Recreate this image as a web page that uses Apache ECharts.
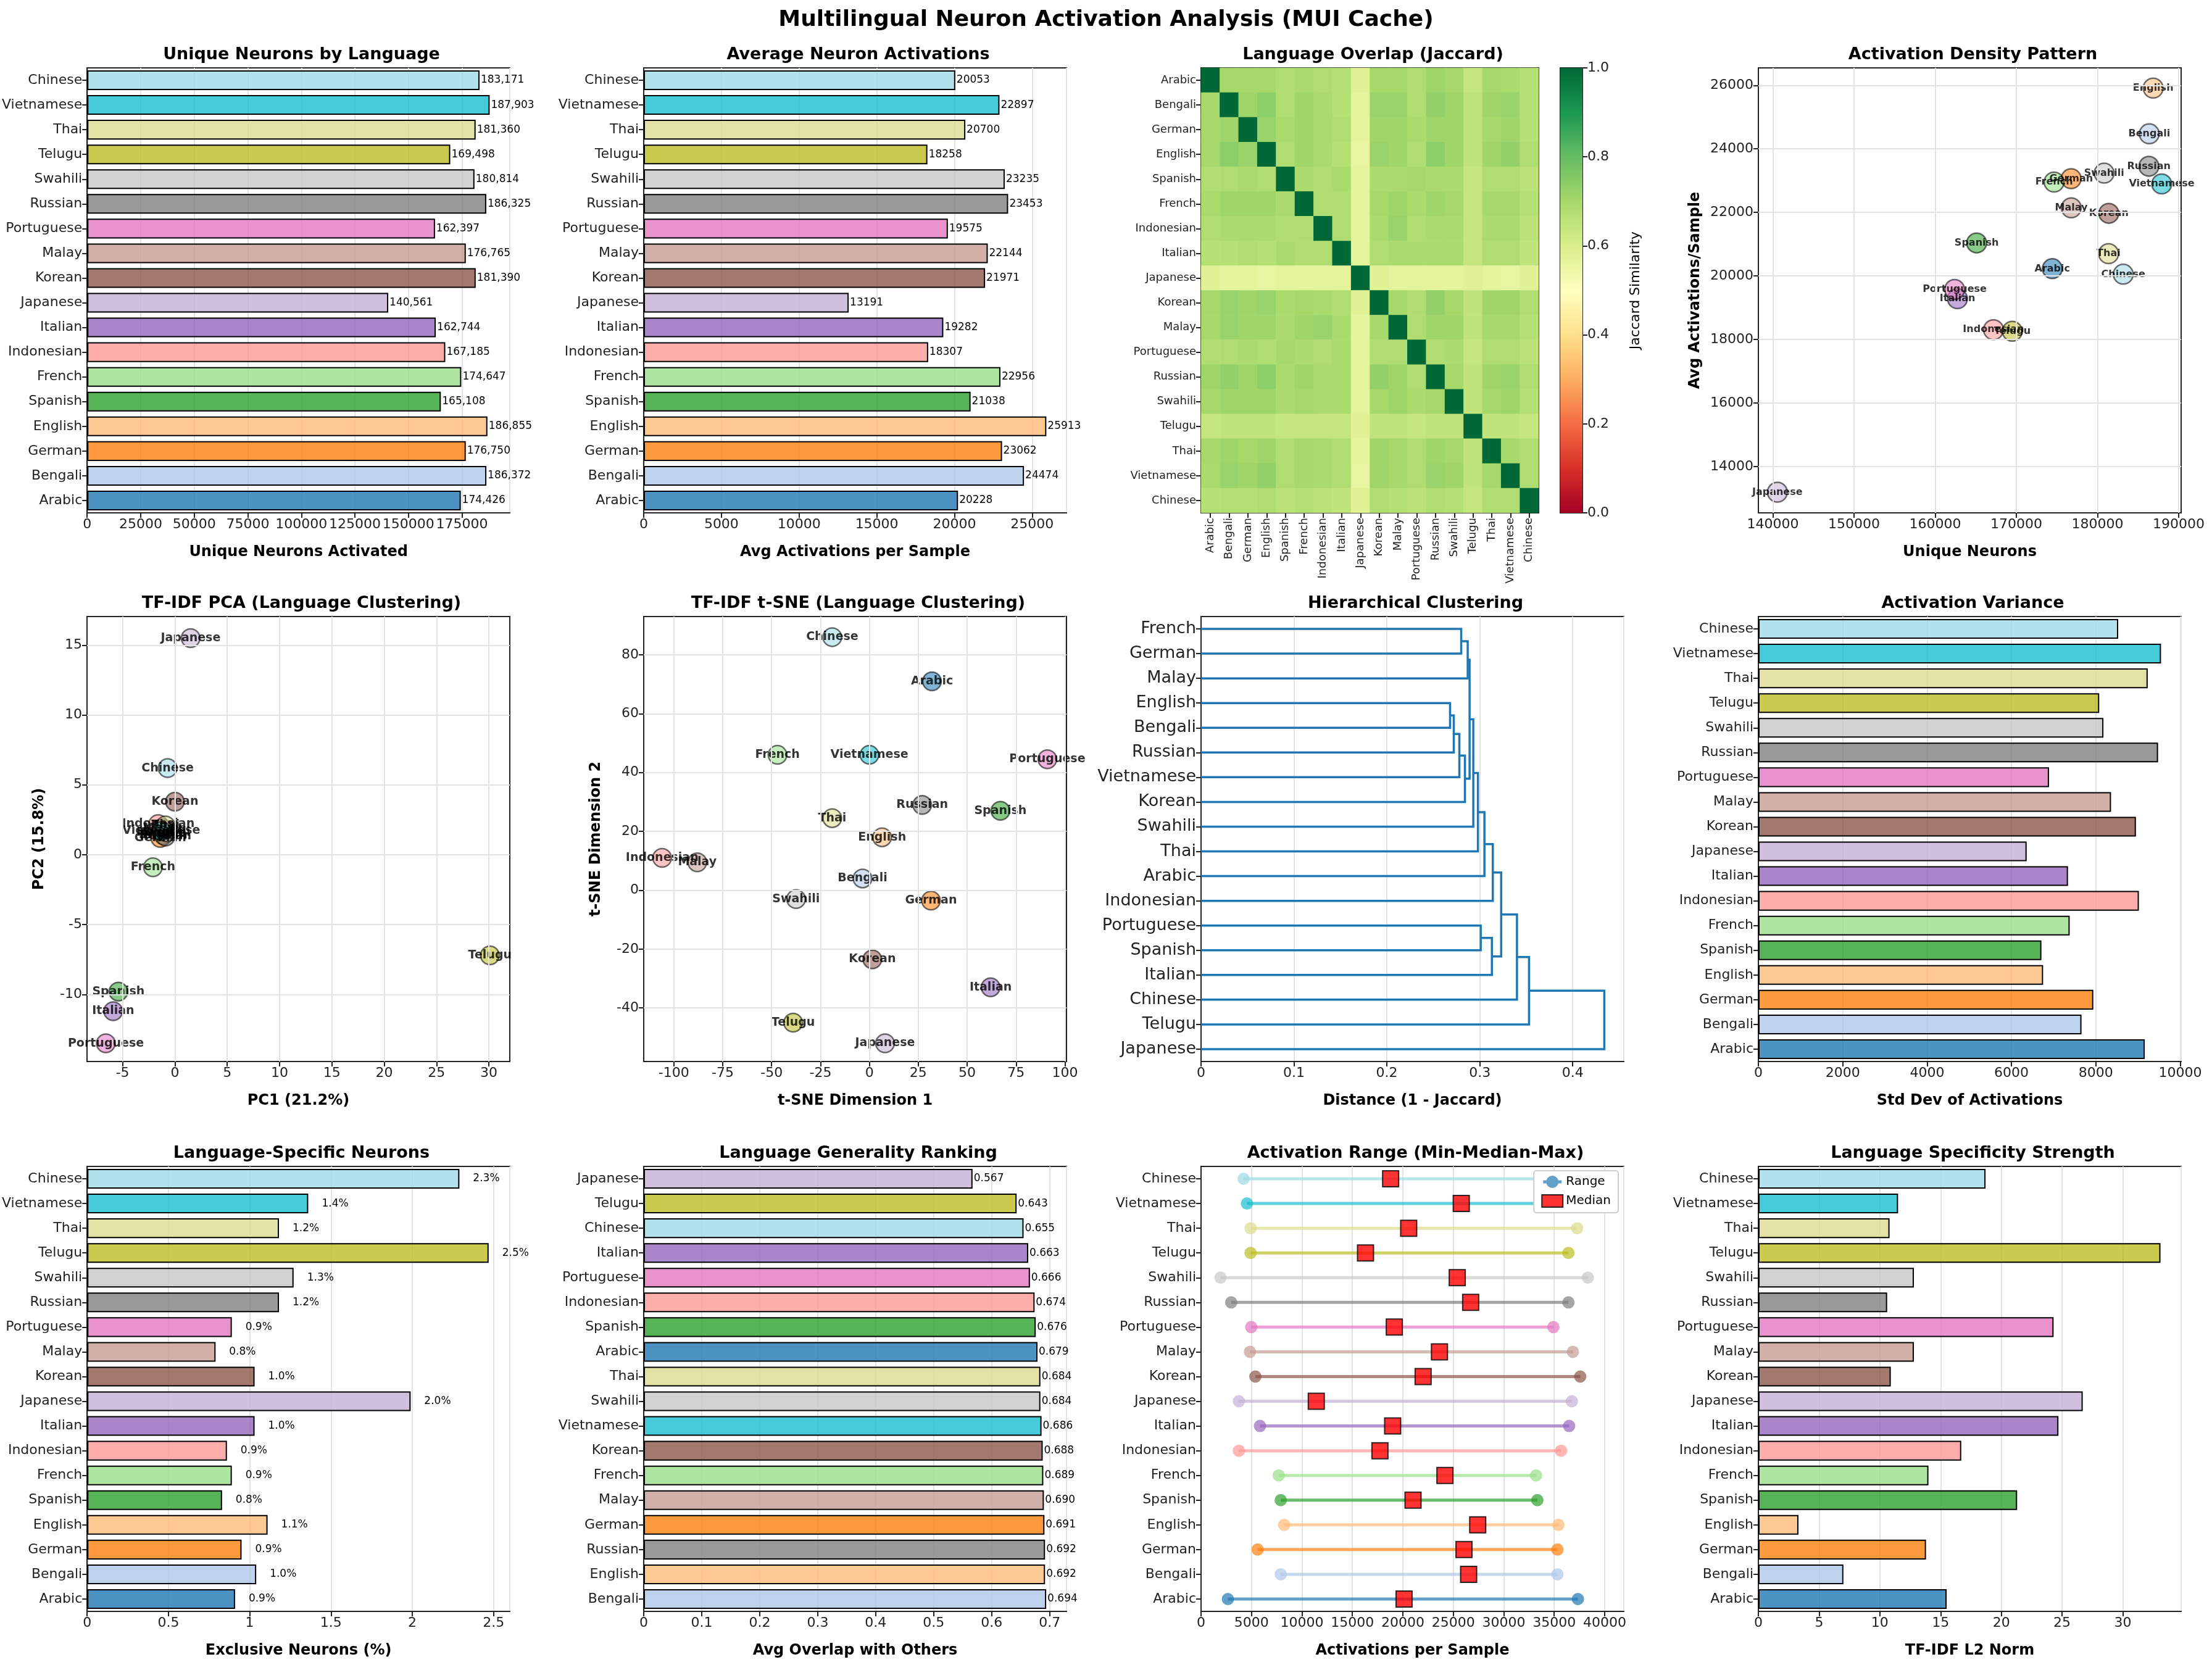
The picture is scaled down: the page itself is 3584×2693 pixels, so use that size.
<!DOCTYPE html>
<html><head><meta charset="utf-8">
<script src="https://cdn.jsdelivr.net/npm/echarts@6/dist/echarts.min.js"></script>
<style>html,body{margin:0;padding:0;background:#fff}#c{width:3584px;height:2693px}</style>
</head><body><div id="c"></div>
<script>
const LANGS=['Arabic','Bengali','German','English','Spanish','French','Indonesian','Italian','Japanese','Korean','Malay','Portuguese','Russian','Swahili','Telugu','Thai','Vietnamese','Chinese'];
const COLORS=['#1f77b4','#aec7e8','#ff7f0e','#ffbb78','#2ca02c','#98df8a','#ff9896','#9467bd','#c5b0d5','#8c564b','#c49c94','#e377c2','#7f7f7f','#c7c7c7','#bcbd22','#dbdb8d','#17becf','#9edae5'];
const uniqueNeurons=[174426,186372,176750,186855,165108,174647,167185,162744,140561,181390,176765,162397,186325,180814,169498,181360,187903,183171];
const avgActivations=[20228,24474,23062,25913,21038,22956,18307,19282,13191,21971,22144,19575,23453,23235,18258,20700,22897,20053];
const stdActivations=[9160,7660,7940,6750,6710,7380,9020,7340,6360,8950,8360,6890,9475,8180,8080,9230,9545,8530];
const exclusivePct=[0.91,1.04,0.95,1.11,0.83,0.89,0.86,1.03,1.99,1.03,0.79,0.89,1.18,1.27,2.47,1.18,1.36,2.29];
const tfidfNorm=[15.5,7.0,13.8,3.3,21.3,14.0,16.7,24.7,26.7,10.9,12.8,24.3,10.6,12.8,33.1,10.8,11.5,18.7];
const actMin=[2660,7900,5610,8230,7900,7700,3750,5840,3750,5380,4850,4980,2990,1925,4910,4910,4550,4216];
const actMedian=[20120,26520,26060,27420,21010,24170,17730,18990,11420,22010,23630,19150,26720,25390,16300,20580,25790,18790];
const actMax=[37350,35320,35320,35420,33330,33200,35680,36480,36750,37580,36850,34920,36410,38340,36410,37280,38970,40100];
const generalityLangs=['Bengali','English','Russian','German','Malay','French','Korean','Vietnamese','Swahili','Thai','Arabic','Spanish','Indonesian','Portuguese','Italian','Chinese','Telugu','Japanese'];
const generalityScores=[0.694,0.692,0.692,0.691,0.690,0.689,0.688,0.686,0.684,0.684,0.679,0.676,0.674,0.666,0.663,0.655,0.643,0.567];
const pcaX=[-1.0,-1.3,-1.4,-1.1,-5.4,-2.1,-1.6,-5.9,1.5,0.0,-1.2,-6.6,-0.9,-0.8,30.1,-0.9,-1.3,-0.7];
const pcaY=[1.5,1.6,1.2,1.4,-9.8,-0.9,2.2,-11.2,15.5,3.8,1.9,-13.5,1.3,1.6,-7.2,2.1,1.7,6.2];
const tsneX=[32,-3.5,31.5,6.5,67,-47,-106,62,8,1.5,-88,91,27,-37.5,-39,-19,0,-19];
const tsneY=[71,4,-3.5,18,27,46,11,-33,-52,-23.5,9.5,44.5,29,-3,-45,24.5,46,86];
const jaccardUpper=[
[.70,.70,.70,.68,.69,.68,.67,.58,.70,.70,.68,.71,.70,.64,.70,.69,.67],
[.71,.74,.68,.71,.69,.67,.57,.72,.72,.68,.73,.71,.65,.71,.72,.67],
[.72,.69,.71,.69,.68,.57,.71,.71,.69,.71,.71,.65,.70,.71,.67],
[.68,.71,.69,.67,.56,.72,.71,.68,.74,.71,.65,.71,.73,.68],
[.69,.68,.69,.57,.69,.69,.70,.69,.69,.64,.68,.68,.66],
[.68,.68,.57,.70,.71,.69,.71,.70,.64,.70,.70,.67],
[.68,.57,.69,.72,.68,.69,.69,.64,.69,.69,.66],
[.57,.68,.69,.69,.69,.69,.64,.68,.68,.65],
[.58,.57,.57,.57,.57,.58,.57,.56,.58],
[.70,.68,.73,.70,.65,.71,.71,.68],
[.68,.71,.71,.65,.70,.70,.67],
[.68,.69,.64,.68,.68,.66],
[.70,.65,.71,.72,.68],
[.65,.70,.71,.67],
[.65,.65,.64],
[.70,.68],
[.68]];
const dendroLeaves=['French','German','Malay','English','Bengali','Russian','Vietnamese','Korean','Swahili','Thai','Arabic','Indonesian','Portuguese','Spanish','Italian','Chinese','Telugu','Japanese'];
const dendroLinkage=[[0,1,0.280],[18,2,0.287],[3,4,0.268],[20,5,0.272],[21,6,0.278],[22,7,0.284],[19,23,0.289],[24,8,0.293],[25,9,0.298],[26,10,0.305],[27,11,0.314],[12,13,0.301],[29,14,0.313],[28,30,0.323],[31,15,0.340],[32,16,0.353],[33,17,0.434]];
const RDYLGN=['#a50026','#d73027','#f46d43','#fdae61','#fee08b','#ffffbf','#d9ef8b','#a6d96a','#66bd63','#1a9850','#006837'];
const densityXTicks=[140000,150000,160000,170000,180000,190000];
const densityYTicks=[14000,16000,18000,20000,22000,24000,26000];
const pcaXTicks=[-5,0,5,10,15,20,25,30];
const pcaYTicks=[-10,-5,0,5,10,15];
const tsneXTicks=[-100,-75,-50,-25,0,25,50,75,100];
const tsneYTicks=[-40,-20,0,20,40,60,80];

function rgba(hex,a){const n=parseInt(hex.slice(1),16);return 'rgba('+(n>>16)+','+((n>>8)&255)+','+(n&255)+','+a+')';}
const cols=[141,1043,1946,2849], rows=[110,999,1890], W=685, H=721;
const grids=[],xA=[],yA=[],series=[],titles=[];
const TXT='#222', FONT='DejaVu Sans';
function addGrid(c,r,w,title,leftOverride){
  const left=leftOverride!==undefined?leftOverride:cols[c]; const width=w||W;
  grids.push({left:left,top:rows[r],width:width,height:H,show:true,borderColor:'#222',borderWidth:2,backgroundColor:'rgba(0,0,0,0)'});
  if(title) titles.push({text:title,left:left+width/2,top:rows[r]-40,textAlign:'center',textStyle:{fontSize:27,fontWeight:'bold',color:'#000',fontFamily:FONT}});
  return grids.length-1;
}
const plain=v=>String(v);
const lbl={fontSize:22,color:TXT,fontFamily:FONT,formatter:plain};
const tick={show:true,length:8,lineStyle:{color:'#222',width:2}};
const aLine={show:true,onZero:false,lineStyle:{color:'#222',width:2}};
const split={show:true,lineStyle:{color:'#e3e3e3',width:2}};
const nameSt={fontSize:24,fontWeight:'bold',color:'#000',fontFamily:FONT};
function valX(g,o){xA.push(Object.assign({type:'value',gridIndex:g,axisLabel:Object.assign({},lbl,{showMaxLabel:false}),axisTick:tick,axisLine:aLine,splitLine:split,nameLocation:'middle',nameGap:52,nameTextStyle:nameSt},o));return xA.length-1;}
function valY(g,o){yA.push(Object.assign({type:'value',gridIndex:g,axisLabel:lbl,axisTick:tick,axisLine:aLine,splitLine:split,nameLocation:'middle',nameGap:90,nameTextStyle:nameSt},o));return yA.length-1;}
function catY(g,data,o){yA.push(Object.assign({type:'category',gridIndex:g,data:data,axisLabel:{fontSize:22,color:TXT,fontFamily:FONT},axisTick:Object.assign({alignWithLabel:true},tick),axisLine:aLine,splitLine:{show:false}},o));return yA.length-1;}

function hbar(c,r,title,cats,vals,colors,xname,xo,fmt){
  const g=addGrid(c,r,null,title);
  const xi=valX(g,Object.assign({name:xname,min:0},xo));
  const yi=catY(g,cats);
  series.push({type:'bar',xAxisIndex:xi,yAxisIndex:yi,barCategoryGap:'20%',
    data:vals.map((v,i)=>({value:v,itemStyle:{color:rgba(colors[i],0.8)}})),
    itemStyle:{borderColor:'#000',borderWidth:2},
    label:fmt?{show:true,position:'right',distance:fmt.d||2,fontSize:17,color:'#000',fontFamily:FONT,formatter:p=>fmt.f(p.value)}:{show:false}});
}
hbar(0,0,'Unique Neurons by Language',LANGS,uniqueNeurons,COLORS,'Unique Neurons Activated',{max:197300,interval:25000},{f:v=>v.toLocaleString('en-US')});
hbar(1,0,'Average Neuron Activations',LANGS,avgActivations,COLORS,'Avg Activations per Sample',{max:27210,interval:5000},{f:v=>String(v)});
hbar(3,1,'Activation Variance',LANGS,stdActivations,COLORS,'Std Dev of Activations',{max:10022,interval:2000},null);
hbar(0,2,'Language-Specific Neurons',LANGS,exclusivePct,COLORS,'Exclusive Neurons (%)',{max:2.6,interval:0.5},{f:v=>v.toFixed(1)+'%',d:22});
hbar(1,2,'Language Generality Ranking',generalityLangs,generalityScores,generalityLangs.map(l=>COLORS[LANGS.indexOf(l)]),'Avg Overlap with Others',{max:0.729,interval:0.1},{f:v=>v.toFixed(3)});
hbar(3,2,'Language Specificity Strength',LANGS,tfidfNorm,COLORS,'TF-IDF L2 Norm',{max:34.8,interval:5},null);

// heatmap
(function(){
  const g=addGrid(2,0,547,'Language Overlap (Jaccard)');
  const xi=xA.push({type:'category',gridIndex:g,data:LANGS,axisLabel:{fontSize:18,color:TXT,rotate:90,interval:0,fontFamily:FONT},axisTick:Object.assign({alignWithLabel:true},tick),axisLine:aLine,splitLine:{show:false}})-1;
  const yi=catY(g,LANGS,{inverse:true,axisLabel:{fontSize:18,color:TXT,interval:0,fontFamily:FONT}});
  const data=[];
  for(let i=0;i<18;i++){data.push([i,i,1]);for(let j=i+1;j<18;j++){const v=jaccardUpper[i][j-i-1];data.push([j,i,v]);data.push([i,j,v]);}}
  series.push({type:'heatmap',xAxisIndex:xi,yAxisIndex:yi,data:data});
  window.HEATIDX=series.length-1;
  const cg=addGrid(2,0,36,null,2528);
  const cx=valX(cg,{min:0,max:1,show:false,splitLine:{show:false}});
  const cy=valY(cg,{min:0,max:1,interval:0.2,position:'right',splitLine:{show:false},axisLabel:Object.assign({},lbl,{formatter:v=>v.toFixed(1)}),name:'Jaccard Similarity',nameRotate:90,nameGap:75,nameTextStyle:{fontSize:22,color:'#000',fontFamily:FONT}});
  series.push({type:'custom',xAxisIndex:cx,yAxisIndex:cy,data:[[0,0]],silent:true,renderItem:(p,api)=>{
    const a=api.coord([0,0]),b=api.coord([1,1]);
    return {type:'rect',shape:{x:a[0],y:b[1],width:b[0]-a[0],height:a[1]-b[1]},style:{fill:new echarts.graphic.LinearGradient(0,1,0,0,RDYLGN.map((c,i)=>({offset:i/10,color:c})))}};}});
})();

function gridLines(xt,yt){return {silent:true,symbol:'none',label:{show:false},lineStyle:{color:'#e3e3e3',width:2,type:'solid'},data:xt.map(v=>({xAxis:v})).concat(yt.map(v=>({yAxis:v})))};}
function scatterPanel(c,r,title,xs,ys,xr,yr,xt,yt,xname,yname,size,fs,ygap){
  const g=addGrid(c,r,null,title);
  const xi=valX(g,{min:xr[0],max:xr[1],name:xname,splitLine:{show:false},axisLabel:Object.assign({},lbl,{customValues:xt}),axisTick:Object.assign({customValues:xt},tick)});
  const yi=valY(g,{min:yr[0],max:yr[1],name:yname,nameGap:ygap,splitLine:{show:false},axisLabel:Object.assign({},lbl,{customValues:yt}),axisTick:Object.assign({customValues:yt},tick)});
  series.push({type:'scatter',xAxisIndex:xi,yAxisIndex:yi,symbolSize:size,
    data:LANGS.map((l,i)=>({name:l,value:[xs[i],ys[i]],itemStyle:{color:rgba(COLORS[i],0.7)}})),
    itemStyle:{borderColor:'rgba(0,0,0,0.7)',borderWidth:2.5},
    label:{show:true,position:'inside',formatter:'{b}',fontSize:fs,fontWeight:'bold',color:'#000',fontFamily:FONT},
    markLine:gridLines(xt,yt),z:3});
}
scatterPanel(3,0,'Activation Density Pattern',uniqueNeurons,avgActivations,[138220,190300],[12540,26550],densityXTicks,densityYTicks,'Unique Neurons','Avg Activations/Sample',32,16,90);
scatterPanel(0,1,'TF-IDF PCA (Language Clustering)',pcaX,pcaY,[-8.4,32],[-14.8,17.05],pcaXTicks,pcaYTicks,'PC1 (21.2%)','PC2 (15.8%)',30,19,65);
scatterPanel(1,1,'TF-IDF t-SNE (Language Clustering)',tsneX,tsneY,[-115.4,100.8],[-58.2,93],tsneXTicks,tsneYTicks,'t-SNE Dimension 1','t-SNE Dimension 2',30,19,65);

// dendrogram
(function(){
  const g=addGrid(2,1,null,'Hierarchical Clustering');
  const xi=valX(g,{min:0,max:0.455,interval:0.1,name:'Distance (1 - Jaccard)'});
  const yc=catY(g,dendroLeaves,{inverse:true,axisLabel:{fontSize:27,color:TXT,interval:0,fontFamily:FONT}});
  const yv=valY(g,{min:-0.5,max:17.5,inverse:true,show:false,splitLine:{show:false}});
  const pos=dendroLeaves.map((_,i)=>i), ht=dendroLeaves.map(()=>0), segs=[];
  dendroLinkage.forEach(m=>{const a=m[0],b=m[1],h=m[2];segs.push([ht[a],pos[a],h,pos[b],ht[b]]);pos.push((pos[a]+pos[b])/2);ht.push(h);});
  series.push({type:'custom',xAxisIndex:xi,yAxisIndex:yv,data:segs,silent:true,renderItem:(p,api)=>{
    const xa=api.value(0),ya=api.value(1),h=api.value(2),yb=api.value(3),xb=api.value(4);
    return {type:'polyline',shape:{points:[api.coord([xa,ya]),api.coord([h,ya]),api.coord([h,yb]),api.coord([xb,yb])]},style:{stroke:'#1f77b4',lineWidth:3.5,fill:null}};}});
})();

// range panel
(function(){
  const g=addGrid(2,2,null,'Activation Range (Min-Median-Max)');
  const xi=valX(g,{min:0,max:41900,interval:5000,name:'Activations per Sample'});
  const yi=catY(g,LANGS);
  LANGS.forEach((l,i)=>{
    series.push({type:'line',name:'Range',xAxisIndex:xi,yAxisIndex:yi,data:[[actMin[i],l],[actMax[i],l]],symbol:'circle',symbolSize:20,
      lineStyle:{color:rgba(COLORS[i],0.7),width:5},itemStyle:{color:rgba(COLORS[i],0.7)},z:2});
  });
  series.push({type:'scatter',name:'Median',xAxisIndex:xi,yAxisIndex:yi,data:LANGS.map((l,i)=>[actMedian[i],l]),symbol:'rect',symbolSize:26,
    itemStyle:{color:'#ff0000',borderColor:'#000',borderWidth:2},z:5});
})();

const option={animation:false,backgroundColor:'#fff',textStyle:{fontFamily:FONT},
  title:[{text:'Multilingual Neuron Activation Analysis (MUI Cache)',left:'center',top:10,textStyle:{fontSize:36,fontWeight:'bold',color:'#000',fontFamily:FONT}}].concat(titles),
  grid:grids,xAxis:xA,yAxis:yA,series:series,
  visualMap:[{type:'continuous',show:false,min:0,max:1,seriesIndex:window.HEATIDX,dimension:2,inRange:{color:RDYLGN}}],
  legend:{data:[{name:'Range',icon:'path://M0,4 L12,4 L12,6 L0,6 Z M6,1 A4,4 0 1 1 5.99,1 Z',itemStyle:{color:'rgba(31,119,180,0.7)'}},{name:'Median',icon:'rect',itemStyle:{color:'#ff0000',borderColor:'#000',borderWidth:2}}],orient:'vertical',right:962,top:1897,
    backgroundColor:'#fff',borderColor:'#ccc',borderWidth:2,borderRadius:4,padding:[8,12],itemGap:10,itemWidth:34,itemHeight:20,textStyle:{fontSize:20,color:'#000',fontFamily:FONT}}
};
const chart=echarts.init(document.getElementById('c'),null,{renderer:'canvas'});
chart.setOption(option);
</script></body></html>
